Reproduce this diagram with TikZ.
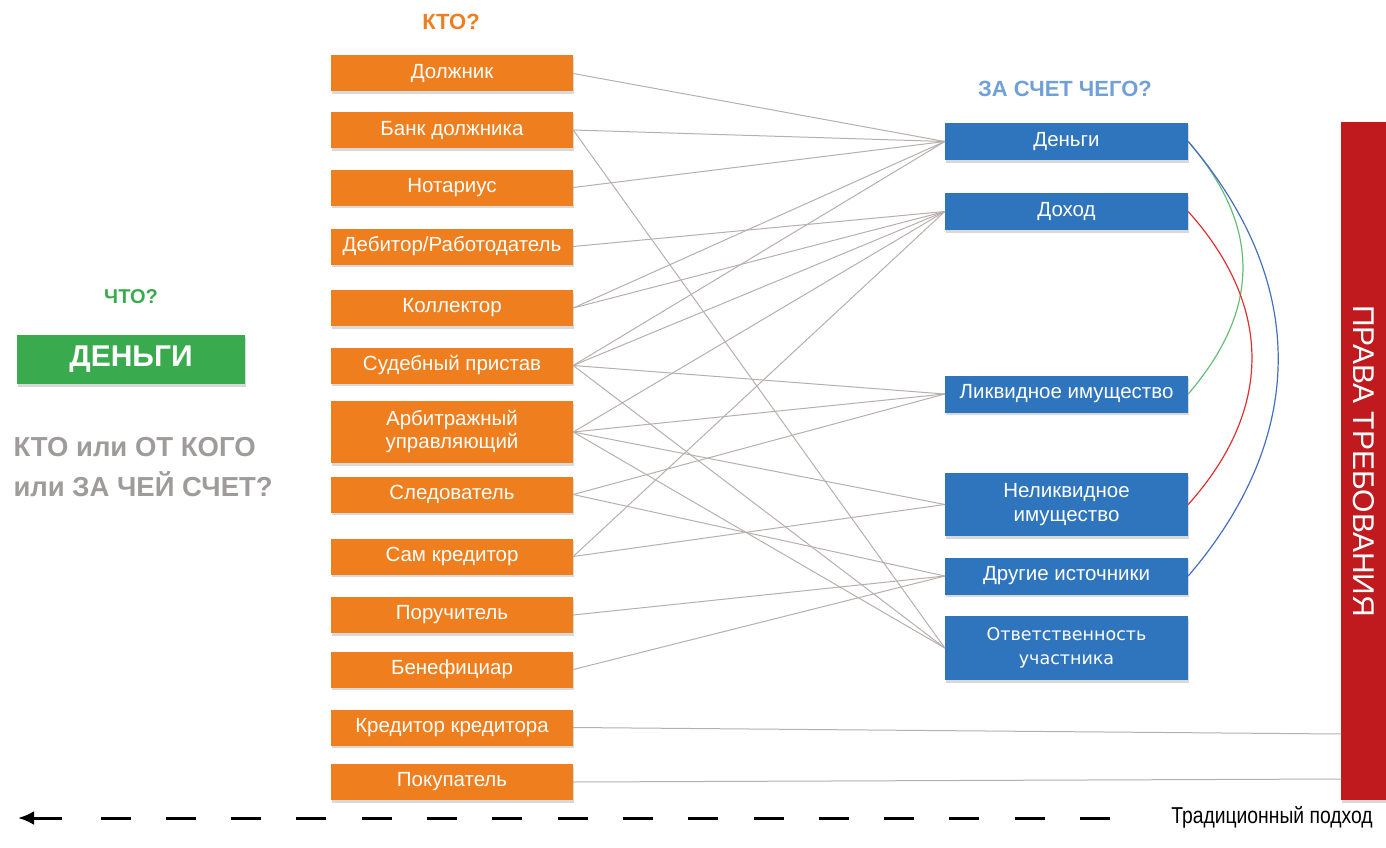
\documentclass[tikz,border=0pt]{standalone}
\usepackage{fontspec}
\setmainfont{Liberation Sans}
\newfontfamily\widesans{DejaVu Sans}
\newfontfamily\narrowsans[FakeStretch=0.84]{Liberation Sans}
\usepackage{tikz}
\usetikzlibrary{shadows, arrows.meta}

\definecolor{ktoorange}{RGB}{238,126,30}
\definecolor{schetblue}{RGB}{46,117,190}
\definecolor{schettitle}{RGB}{112,160,216}
\definecolor{chtogreen}{RGB}{58,170,78}
\definecolor{pravared}{RGB}{192,26,30}
\definecolor{linkgray}{RGB}{184,174,174}
\definecolor{kogogray}{RGB}{160,155,155}
\definecolor{arcgreen}{RGB}{100,190,120}
\definecolor{arcred}{RGB}{222,50,50}
\definecolor{arcblue}{RGB}{70,110,190}

\begin{document}
\begin{tikzpicture}[x=1pt, y=-1pt,
    boxshadow/.style={drop shadow={opacity=0.3, shadow xshift=0.5pt, shadow yshift=-2.5pt}},
    ktobox/.style={fill=ktoorange, text=white, minimum width=242pt, minimum height=36pt,
      inner sep=2pt, align=center, font=\fontsize{20.5}{23}\selectfont, boxshadow},
    schetbox/.style={fill=schetblue, text=white, minimum width=243pt, minimum height=37pt,
      inner sep=2pt, align=center, font=\fontsize{20.5}{24}\selectfont, boxshadow},
    link/.style={draw=linkgray, line width=1pt},
    arc/.style={line width=1.2pt},
    title/.style={font=\bfseries\fontsize{22}{24}\selectfont}]
  \useasboundingbox (0,0) rectangle (1386,848);

  % Left part: what?
  \node[title, text=chtogreen, font=\bfseries\fontsize{20}{24}\selectfont] (chto) at (131,297) {ЧТО?};
  \node[fill=chtogreen, text=white, minimum width=228pt, minimum height=49pt,
    font=\bfseries\fontsize{30}{32}\selectfont, boxshadow] (dengibox) at (131,359.5) {ДЕНЬГИ};
  \node[anchor=west, align=left, text=kogogray, font=\bfseries\fontsize{27.5}{40}\selectfont]
    (kogo) at (10,467) {КТО или ОТ КОГО\\или ЗА ЧЕЙ СЧЕТ?};

  % Who?
  \node[title, text=ktoorange] (kto) at (451,22) {КТО?};
  \node[ktobox] (dolzhnik) at (452,73.5) {Должник};
  \node[ktobox] (bank) at (452,130) {Банк должника};
  \node[ktobox] (notarius) at (452,187.5) {Нотариус};
  \node[ktobox] (debitor) at (452,246.5) {Дебитор/Работодатель};
  \node[ktobox] (kollektor) at (452,308) {Коллектор};
  \node[ktobox] (pristav) at (452,365.5) {Судебный пристав};
  \node[ktobox, minimum height=62pt] (arbitr) at (452,432) {Арбитражный\\управляющий};
  \node[ktobox] (sledovatel) at (452,494.5) {Следователь};
  \node[ktobox] (samkred) at (452,556.5) {Сам кредитор};
  \node[ktobox] (poruchitel) at (452,615) {Поручитель};
  \node[ktobox] (benef) at (452,669.5) {Бенефициар};
  \node[ktobox] (kredkred) at (452,727.5) {Кредитор кредитора};
  \node[ktobox] (pokupatel) at (452,782) {Покупатель};

  % At whose expense?
  \node[title, text=schettitle] (zaschet) at (1065,89) {ЗА СЧЕТ ЧЕГО?};
  \node[schetbox] (dengi) at (1066.5,141.5) {Деньги};
  \node[schetbox] (dohod) at (1066.5,211.5) {Доход};
  \node[schetbox] (likvid) at (1066.5,394) {Ликвидное имущество};
  \node[schetbox, minimum height=63pt] (nelikvid) at (1066.5,504.5) {Неликвидное\\имущество};
  \node[schetbox] (drugie) at (1066.5,576) {Другие источники};
  \node[schetbox, minimum height=64pt, font=\widesans\fontsize{17.5}{24}\selectfont]
    (otvet) at (1066.5,648) {Ответственность\\участника};

  % Red bar
  \node[fill=pravared, minimum width=45pt, minimum height=678pt, inner sep=0pt, boxshadow] (prava) at (1363.5,461) {};
  \node[rotate=-90, text=white, font=\fontsize{30}{32}\selectfont] (pravatext) at (prava.center) {ПРАВА ТРЕБОВАНИЯ};
  \coordinate (prava in1) at (1341,734);
  \coordinate (prava in2) at (1341,779);

  % Links
  \draw[link] (dolzhnik.east) -- (dengi.west);
  \draw[link] (bank.east) -- (dengi.west);
  \draw[link] (bank.east) -- (otvet.west);
  \draw[link] (notarius.east) -- (dengi.west);
  \draw[link] (debitor.east) -- (dohod.west);
  \draw[link] (kollektor.east) -- (dengi.west);
  \draw[link] (kollektor.east) -- (dohod.west);
  \draw[link] (pristav.east) -- (dengi.west);
  \draw[link] (pristav.east) -- (dohod.west);
  \draw[link] (pristav.east) -- (likvid.west);
  \draw[link] (pristav.east) -- (otvet.west);
  \draw[link] (arbitr.east) -- (dohod.west);
  \draw[link] (arbitr.east) -- (likvid.west);
  \draw[link] (arbitr.east) -- (nelikvid.west);
  \draw[link] (arbitr.east) -- (otvet.west);
  \draw[link] (sledovatel.east) -- (likvid.west);
  \draw[link] (sledovatel.east) -- (drugie.west);
  \draw[link] (samkred.east) -- (dohod.west);
  \draw[link] (samkred.east) -- (nelikvid.west);
  \draw[link] (poruchitel.east) -- (drugie.west);
  \draw[link] (benef.east) -- (drugie.west);
  \draw[link] (kredkred.east) -- (prava in1);
  \draw[link] (pokupatel.east) -- (prava in2);

  % Arcs on the right
  \draw[arc, arcgreen] (dengi.east) .. controls +(73,85) and +(73,-85) .. (likvid.east);
  \draw[arc, arcred] (dohod.east) .. controls +(85,95) and +(85,-95) .. (nelikvid.east);
  \draw[arc, arcblue] (dengi.east) .. controls +(120,140) and +(120,-140) .. (drugie.east);

  % Bottom arrow
  \coordinate (podhod start) at (1110,818);
  \coordinate (podhod mid) at (98,818);
  \coordinate (podhod tail) at (62,818);
  \coordinate (podhod tip) at (18,818);
  \draw[line width=3pt, dash pattern=on 30pt off 35.3pt] (podhod start) -- (podhod mid);
  \draw[line width=3pt, -{Latex[length=16pt, width=14pt]}] (podhod tail) -- (podhod tip);
  \node[font=\narrowsans\fontsize{23}{25}\selectfont] (podhod) at (1272,817) {Традиционный подход};
\end{tikzpicture}
\end{document}
